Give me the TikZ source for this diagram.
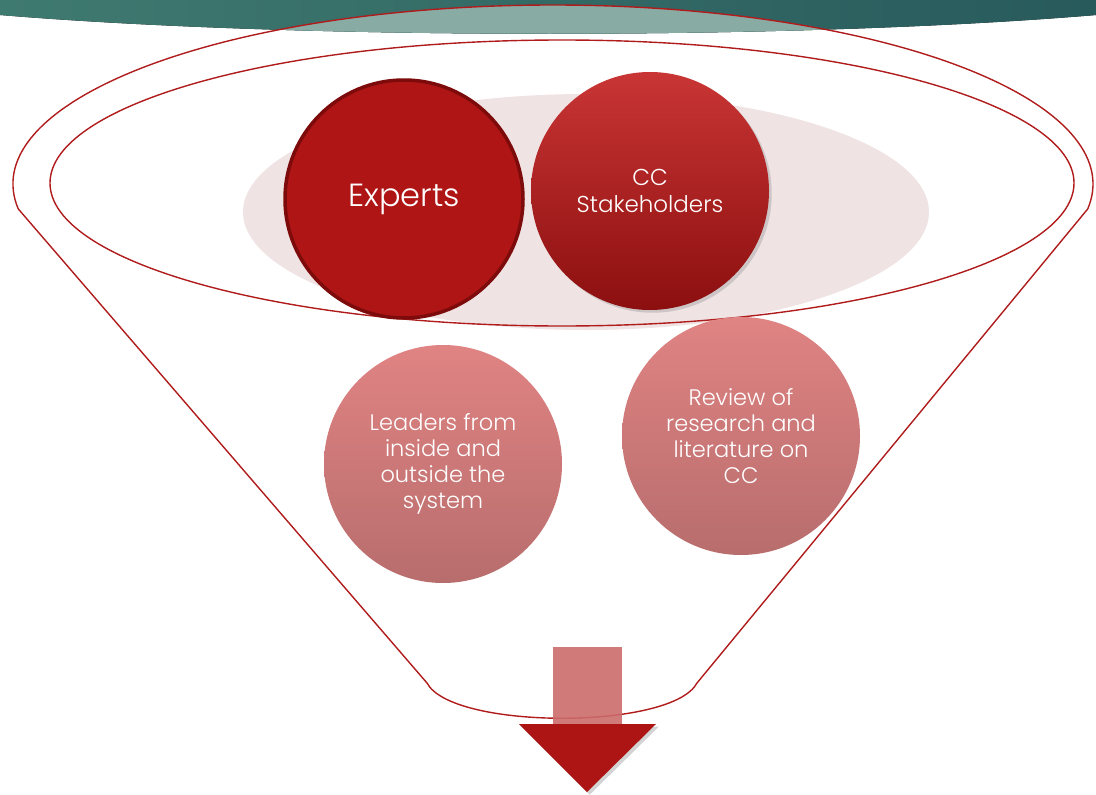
\documentclass[tikz,border=0pt]{standalone}
\usepackage{fontspec}
\setmainfont{Poppins Light}
\usetikzlibrary{shadows}
\definecolor{funnelred}{HTML}{B01C1C}
\definecolor{expred}{HTML}{AF1515}
\definecolor{expborder}{HTML}{7E0B0B}
\definecolor{stktop}{HTML}{C93535}
\definecolor{stkbot}{HTML}{8C0F0F}
\definecolor{lowtop}{HTML}{E08383}
\definecolor{lowbot}{HTML}{B86D6D}
\definecolor{pinkbg}{HTML}{EFE3E4}
\definecolor{tealleft}{HTML}{3F7A70}
\definecolor{tealright}{HTML}{285A5C}
\definecolor{tealpale}{HTML}{88ACA4}
\definecolor{shaftred}{HTML}{CC6B6B}
\definecolor{headred}{HTML}{AD1515}

\begin{document}
\begin{tikzpicture}
	[x=1pt, y=-1pt,
	line/.style = {draw=funnelred, line width=1.4pt},
	bubble/.style = {circle, minimum size=238pt, inner sep=0pt, text=white, align=center},
	lowbubble/.style = {bubble, top color=lowtop, bottom color=lowbot, font=\fontsize{22.5}{26}\selectfont}
	]
	\useasboundingbox (0,0) rectangle (1096,795);

	\fill[left color=tealleft, right color=tealright] (0,0) -- (1096,0) -- (1096,15) .. controls (800,40) and (300,40) .. (0,15) -- cycle;
	\begin{scope}
		\clip (553,184) ellipse [x radius=540, y radius=179];
		\fill[tealpale] (0,0) -- (1096,0) -- (1096,15) .. controls (800,40) and (300,40) .. (0,15) -- cycle;
	\end{scope}

	\fill[pinkbg] (586,212) ellipse [x radius=343, y radius=118];

	\coordinate (ctr) at (553,184);
	\coordinate (lbend) at (697,683);
	\coordinate (rbend) at (427,683);
	\draw[line] (ctr) ++(-188:540 and 179) arc[start angle=-188, end angle=8, x radius=540, y radius=179]
		-- (lbend) .. controls (672,730) and (452,730) .. (rbend) -- cycle;
	\draw[line] (562,183) ellipse [x radius=512, y radius=143];

	\node[bubble, fill=expred, draw=expborder, line width=3.5pt, font=\fontsize{32}{38}\selectfont] (experts) at (404,199) {Experts};
	\node[bubble, top color=stktop, bottom color=stkbot, drop shadow={opacity=0.3}, font=\fontsize{23}{27}\selectfont] (stake) at (650,191) {CC\\Stakeholders};

	\node[lowbubble] (leaders) at (443,464) {Leaders from\\inside and\\outside the\\system};
	\node[lowbubble] (review) at (741,436) {Review of\\research and\\literature on\\CC};

	\fill[shaftred, opacity=0.9] (553,647) rectangle (622,728);
	\fill[headred, drop shadow={opacity=0.35}] (519,724) -- (656,724) -- (587,792) -- cycle;
\end{tikzpicture}
\end{document}
